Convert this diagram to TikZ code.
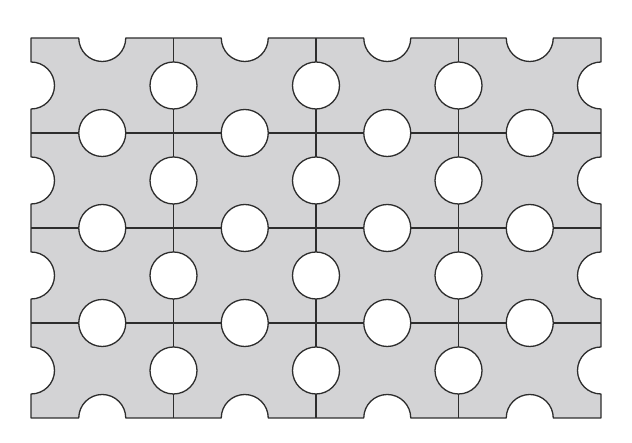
\documentclass[tikz,border=0pt]{standalone}
\definecolor{tilegray}{RGB}{211,211,213}
\definecolor{linegray}{RGB}{45,45,45}
\tikzset{
  tile/.style={fill=tilegray, draw=linegray, line width=1.3pt, line join=round},
  joint/.style={draw=linegray, line width=1.3pt},
  hole/.style={fill=white, draw=linegray, line width=1.3pt}
}
\begin{document}
\begin{tikzpicture}[x=1pt,y=1pt]
\useasboundingbox (0,0) rectangle (632,443);
\def\r{23.5}
% outline with half-circle notches
\path[tile] (31,25)
  foreach \c in {102.25,244.75,387.25,529.75} { -- (\c-\r,25) arc[start angle=180,end angle=0,radius=\r] }
  -- (601,25)
  foreach \m in {72.5,167.5,262.5,357.5} { -- (601,\m-\r) arc[start angle=270,end angle=90,radius=\r] }
  -- (601,405)
  foreach \c in {529.75,387.25,244.75,102.25} { -- (\c+\r,405) arc[start angle=0,end angle=-180,radius=\r] }
  -- (31,405)
  foreach \m in {357.5,262.5,167.5,72.5} { -- (31,\m+\r) arc[start angle=90,end angle=-90,radius=\r] }
  -- cycle;
% joints between tiles
\foreach \x in {173.5,316,458.5} \draw[joint] (\x,25) -- (\x,405);
\foreach \y in {120,215,310} \draw[joint] (31,\y) -- (601,\y);
% holes on vertical joints
\foreach \x in {173.5,316,458.5}
  \foreach \m in {72.5,167.5,262.5,357.5}
    \path[hole] (\x,\m) circle[radius=\r];
% holes on horizontal joints
\foreach \y in {120,215,310}
  \foreach \c in {102.25,244.75,387.25,529.75}
    \path[hole] (\c,\y) circle[radius=\r];
\end{tikzpicture}
\end{document}
